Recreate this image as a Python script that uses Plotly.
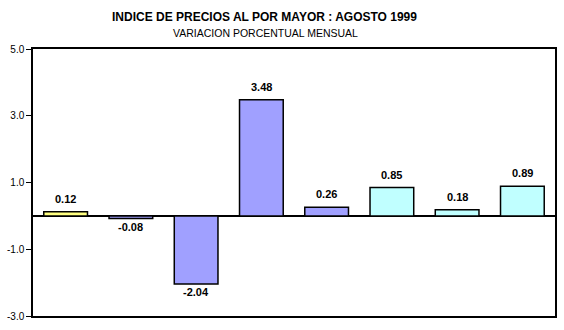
import plotly.graph_objects as go

categories = ["c1", "c2", "c3", "c4", "c5", "c6", "c7", "c8"]
values = [0.12, -0.08, -2.04, 3.48, 0.26, 0.85, 0.18, 0.89]
colors = ["#FFFF80", "#A0A0FF", "#A0A0FF", "#A0A0FF", "#A0A0FF", "#C0FFFF", "#C0FFFF", "#C0FFFF"]
tick_vals = [-3, -1, 1, 3, 5]
tick_text = ["-3.0", "-1.0", "1.0", "3.0", "5.0"]

fig = go.Figure()
fig.add_trace(go.Bar(
    x=categories, y=values,
    marker=dict(color=colors, line=dict(color="black", width=1.5)),
    width=0.67,
))

for c, v in zip(categories, values):
    fig.add_annotation(
        x=c, y=v, text=f"<b>{v:.2f}</b>", showarrow=False,
        yanchor="bottom" if v >= 0 else "top",
        yshift=5 if v >= 0 else 0,
        font=dict(family="Arial, Liberation Sans", size=11, color="black"),
    )

fig.add_annotation(
    xref="paper", yref="paper", x=(265 - 33) / 524, y=1, yshift=32, xanchor="center", yanchor="middle",
    text="<b>INDICE DE PRECIOS AL POR MAYOR : AGOSTO 1999</b>", showarrow=False,
    font=dict(family="Arial, Liberation Sans", size=12, color="black"),
)
fig.add_annotation(
    xref="paper", yref="paper", x=(266 - 33) / 524, y=1, yshift=16, xanchor="center", yanchor="middle",
    text="VARIACION PORCENTUAL MENSUAL", showarrow=False,
    font=dict(family="Arial, Liberation Sans", size=10.5, color="black"),
)

fig.update_layout(
    width=564, height=330,
    margin=dict(l=33, r=7, t=49, b=14),
    paper_bgcolor="white", plot_bgcolor="white",
    showlegend=False,
    xaxis=dict(showticklabels=False, ticks="", showgrid=False, zeroline=False,
               showline=True, linecolor="black", linewidth=1.5, mirror=True,
               range=[-0.5, 7.5]),
    yaxis=dict(range=[-3, 5], tickvals=tick_vals, ticktext=tick_text,
               ticks="outside", ticklen=5, tickcolor="black",
               showgrid=False, zeroline=True, zerolinecolor="black", zerolinewidth=1.5,
               showline=True, linecolor="black", linewidth=1.5, mirror=True,
               tickfont=dict(family="Arial, Liberation Sans", size=10, color="black")),
)

fig.write_html("out.html")
